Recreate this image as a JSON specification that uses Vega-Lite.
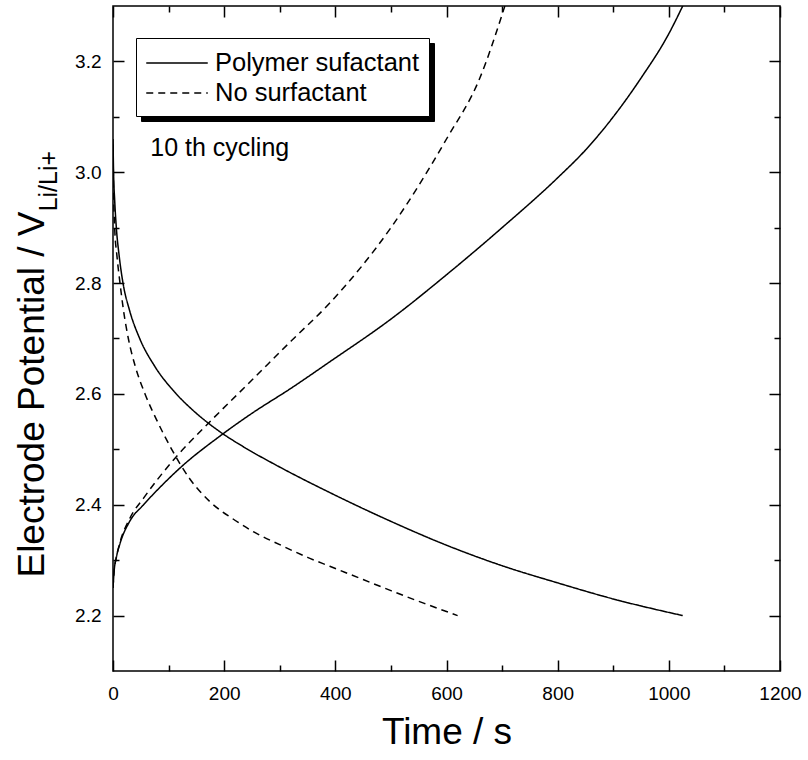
{
  "$schema": "https://vega.github.io/schema/vega-lite/v6.json",
  "width": 667,
  "height": 665,
  "autosize": {"type": "none"},
  "padding": {"left": 113, "top": 6, "right": 28, "bottom": 89},
  "config": {
    "font": "Liberation Sans",
    "view": {"stroke": "black", "strokeWidth": 1.5},
    "axis": {"grid": false, "domain": false, "tickColor": "black", "tickWidth": 1.5, "labelColor": "black", "titleColor": "black", "labelFlush": false, "labelOverlap": false, "labelBound": false}
  },
  "datasets": {
    "curves": [
      {"series": "Polymer sufactant", "branch": "discharge", "t": 0, "v": 3.06},
      {"series": "Polymer sufactant", "branch": "discharge", "t": 1, "v": 3.0},
      {"series": "Polymer sufactant", "branch": "discharge", "t": 3, "v": 2.95},
      {"series": "Polymer sufactant", "branch": "discharge", "t": 6, "v": 2.9},
      {"series": "Polymer sufactant", "branch": "discharge", "t": 11, "v": 2.85},
      {"series": "Polymer sufactant", "branch": "discharge", "t": 18, "v": 2.8},
      {"series": "Polymer sufactant", "branch": "discharge", "t": 30, "v": 2.75},
      {"series": "Polymer sufactant", "branch": "discharge", "t": 48, "v": 2.7},
      {"series": "Polymer sufactant", "branch": "discharge", "t": 75, "v": 2.65},
      {"series": "Polymer sufactant", "branch": "discharge", "t": 114, "v": 2.6},
      {"series": "Polymer sufactant", "branch": "discharge", "t": 150, "v": 2.565},
      {"series": "Polymer sufactant", "branch": "discharge", "t": 192, "v": 2.532},
      {"series": "Polymer sufactant", "branch": "discharge", "t": 234, "v": 2.505},
      {"series": "Polymer sufactant", "branch": "discharge", "t": 300, "v": 2.468},
      {"series": "Polymer sufactant", "branch": "discharge", "t": 390, "v": 2.422},
      {"series": "Polymer sufactant", "branch": "discharge", "t": 500, "v": 2.37},
      {"series": "Polymer sufactant", "branch": "discharge", "t": 600, "v": 2.327},
      {"series": "Polymer sufactant", "branch": "discharge", "t": 700, "v": 2.29},
      {"series": "Polymer sufactant", "branch": "discharge", "t": 800, "v": 2.259},
      {"series": "Polymer sufactant", "branch": "discharge", "t": 900, "v": 2.23},
      {"series": "Polymer sufactant", "branch": "discharge", "t": 1025, "v": 2.2},
      {"series": "Polymer sufactant", "branch": "charge", "t": 0, "v": 2.25},
      {"series": "Polymer sufactant", "branch": "charge", "t": 2, "v": 2.28},
      {"series": "Polymer sufactant", "branch": "charge", "t": 6, "v": 2.305},
      {"series": "Polymer sufactant", "branch": "charge", "t": 12.6, "v": 2.33},
      {"series": "Polymer sufactant", "branch": "charge", "t": 30, "v": 2.37},
      {"series": "Polymer sufactant", "branch": "charge", "t": 55, "v": 2.4},
      {"series": "Polymer sufactant", "branch": "charge", "t": 90, "v": 2.437},
      {"series": "Polymer sufactant", "branch": "charge", "t": 123.5, "v": 2.469},
      {"series": "Polymer sufactant", "branch": "charge", "t": 192.5, "v": 2.524},
      {"series": "Polymer sufactant", "branch": "charge", "t": 250, "v": 2.565},
      {"series": "Polymer sufactant", "branch": "charge", "t": 320, "v": 2.61},
      {"series": "Polymer sufactant", "branch": "charge", "t": 390, "v": 2.658},
      {"series": "Polymer sufactant", "branch": "charge", "t": 500, "v": 2.735},
      {"series": "Polymer sufactant", "branch": "charge", "t": 600, "v": 2.815},
      {"series": "Polymer sufactant", "branch": "charge", "t": 700, "v": 2.9},
      {"series": "Polymer sufactant", "branch": "charge", "t": 800, "v": 2.99},
      {"series": "Polymer sufactant", "branch": "charge", "t": 850, "v": 3.04},
      {"series": "Polymer sufactant", "branch": "charge", "t": 900, "v": 3.1},
      {"series": "Polymer sufactant", "branch": "charge", "t": 950, "v": 3.17},
      {"series": "Polymer sufactant", "branch": "charge", "t": 1000, "v": 3.25},
      {"series": "Polymer sufactant", "branch": "charge", "t": 1025, "v": 3.3},
      {"series": "No surfactant", "branch": "discharge", "t": 0, "v": 3.05},
      {"series": "No surfactant", "branch": "discharge", "t": 1, "v": 2.97},
      {"series": "No surfactant", "branch": "discharge", "t": 3, "v": 2.9},
      {"series": "No surfactant", "branch": "discharge", "t": 7, "v": 2.85},
      {"series": "No surfactant", "branch": "discharge", "t": 12.6, "v": 2.8},
      {"series": "No surfactant", "branch": "discharge", "t": 19, "v": 2.75},
      {"series": "No surfactant", "branch": "discharge", "t": 27.6, "v": 2.7},
      {"series": "No surfactant", "branch": "discharge", "t": 40, "v": 2.65},
      {"series": "No surfactant", "branch": "discharge", "t": 57.6, "v": 2.6},
      {"series": "No surfactant", "branch": "discharge", "t": 80, "v": 2.55},
      {"series": "No surfactant", "branch": "discharge", "t": 105.6, "v": 2.5},
      {"series": "No surfactant", "branch": "discharge", "t": 138, "v": 2.447},
      {"series": "No surfactant", "branch": "discharge", "t": 175, "v": 2.405},
      {"series": "No surfactant", "branch": "discharge", "t": 215, "v": 2.375},
      {"series": "No surfactant", "branch": "discharge", "t": 255, "v": 2.35},
      {"series": "No surfactant", "branch": "discharge", "t": 300, "v": 2.328},
      {"series": "No surfactant", "branch": "discharge", "t": 350, "v": 2.305},
      {"series": "No surfactant", "branch": "discharge", "t": 390, "v": 2.289},
      {"series": "No surfactant", "branch": "discharge", "t": 450, "v": 2.265},
      {"series": "No surfactant", "branch": "discharge", "t": 500, "v": 2.245},
      {"series": "No surfactant", "branch": "discharge", "t": 560, "v": 2.222},
      {"series": "No surfactant", "branch": "discharge", "t": 620, "v": 2.2},
      {"series": "No surfactant", "branch": "charge", "t": 0, "v": 2.25},
      {"series": "No surfactant", "branch": "charge", "t": 2, "v": 2.28},
      {"series": "No surfactant", "branch": "charge", "t": 6, "v": 2.305},
      {"series": "No surfactant", "branch": "charge", "t": 12, "v": 2.33},
      {"series": "No surfactant", "branch": "charge", "t": 30, "v": 2.375},
      {"series": "No surfactant", "branch": "charge", "t": 55, "v": 2.412},
      {"series": "No surfactant", "branch": "charge", "t": 111.6, "v": 2.484},
      {"series": "No surfactant", "branch": "charge", "t": 171.6, "v": 2.547},
      {"series": "No surfactant", "branch": "charge", "t": 250, "v": 2.625},
      {"series": "No surfactant", "branch": "charge", "t": 320, "v": 2.695},
      {"series": "No surfactant", "branch": "charge", "t": 390, "v": 2.764},
      {"series": "No surfactant", "branch": "charge", "t": 500, "v": 2.9},
      {"series": "No surfactant", "branch": "charge", "t": 600, "v": 3.06},
      {"series": "No surfactant", "branch": "charge", "t": 660, "v": 3.17},
      {"series": "No surfactant", "branch": "charge", "t": 705, "v": 3.3}
    ],
    "notes": [{"label": "10 th cycling", "t": 67, "v": 3.044}],
    "sub": [{"label": "Li/Li+", "t": -100.8, "v": 2.984}]
  },
  "layer": [
    {
      "data": {"name": "curves"},
      "mark": {"type": "line", "strokeWidth": 1.5, "clip": true, "interpolate": "monotone"},
      "encoding": {
        "x": {
          "field": "t", "type": "quantitative",
          "scale": {"domain": [0, 1200], "nice": false},
          "axis": {
            "orient": "bottom",
            "values": [0, 100, 200, 300, 400, 500, 600, 700, 800, 900, 1000, 1100, 1200],
            "labelExpr": "datum.value % 200 === 0 ? format(datum.value, 'd') : ''",
            "tickSize": {"condition": {"test": "datum.value % 200 === 0", "value": -11}, "value": -6},
            "labelFontSize": 19,
            "labelPadding": 24,
            "title": "Time / s",
            "titleFontSize": 37,
            "titleFontWeight": "normal",
            "titleX": 333.5,
            "titleY": 72,
            "titleBaseline": "alphabetic"
          }
        },
        "y": {
          "field": "v", "type": "quantitative",
          "scale": {"domain": [2.1, 3.3], "nice": false, "zero": false},
          "axis": {
            "orient": "left",
            "values": [2.2, 2.3, 2.4, 2.5, 2.6, 2.7, 2.8, 2.9, 3.0, 3.1, 3.2],
            "labelExpr": "round(datum.value * 10) % 2 === 0 ? format(datum.value, '.1f') : ''",
            "tickSize": {"condition": {"test": "round(datum.value * 10) % 2 === 0", "value": -11}, "value": -6},
            "labelFontSize": 19,
            "labelPadding": 23,
            "title": "Electrode Potential / V",
            "titleFontSize": 37,
            "titleFontWeight": "normal",
            "titleAngle": 270,
            "titleX": -70,
            "titleY": 388,
            "titleAlign": "center",
            "titleBaseline": "alphabetic"
          }
        },
        "detail": {"field": "branch"},
        "strokeDash": {
          "field": "series", "type": "nominal",
          "scale": {"domain": ["Polymer sufactant", "No surfactant"], "range": [[1, 0], [7, 5]]},
          "legend": {
            "title": null, "orient": "none", "legendX": 23, "legendY": 32,
            "symbolType": "M-2.05,0H2.05", "symbolSize": 900, "symbolStrokeWidth": 1.5,
            "symbolStrokeColor": "black", "symbolFillColor": "transparent", "symbolOffset": 16,
            "labelFontSize": 25.5, "labelColor": "black", "labelOffset": 22, "labelLimit": 0,
            "padding": 9, "rowPadding": 0,
            "strokeColor": "black", "fillColor": "white"
          }
        },
        "color": {
          "field": "series", "type": "nominal",
          "scale": {"domain": ["No surfactant", "Polymer sufactant"], "range": ["black", "black"]},
          "legend": {
            "title": null, "orient": "none", "legendX": 28, "legendY": 37,
            "symbolType": "M-2.05,0H2.05", "symbolSize": 900, "symbolStrokeWidth": 1.5,
            "symbolStrokeColor": "black", "symbolFillColor": "transparent", "symbolOffset": 16,
            "labelFontSize": 25.5, "labelColor": "black", "labelOffset": 22, "labelLimit": 0,
            "padding": 9, "rowPadding": 0,
            "strokeColor": "black", "fillColor": "black"
          }
        }
      }
    },
    {
      "data": {"name": "notes"},
      "mark": {"type": "text", "align": "left", "baseline": "middle", "fontSize": 25, "color": "black"},
      "encoding": {
        "x": {
          "field": "t", "type": "quantitative",
          "scale": {"domain": [0, 1200], "nice": false},
          "axis": {
            "orient": "top",
            "values": [0, 100, 200, 300, 400, 500, 600, 700, 800, 900, 1000, 1100, 1200],
            "labels": false, "title": null,
            "tickSize": {"condition": {"test": "datum.value % 200 === 0", "value": -11}, "value": -6}
          }
        },
        "y": {
          "field": "v", "type": "quantitative",
          "scale": {"domain": [2.1, 3.3], "nice": false, "zero": false},
          "axis": {
            "orient": "right",
            "values": [2.2, 2.3, 2.4, 2.5, 2.6, 2.7, 2.8, 2.9, 3.0, 3.1, 3.2],
            "labels": false, "title": null,
            "tickSize": {"condition": {"test": "round(datum.value * 10) % 2 === 0", "value": -11}, "value": -6}
          }
        },
        "text": {"field": "label"}
      }
    },
    {
      "data": {"name": "sub"},
      "mark": {"type": "text", "angle": 270, "align": "center", "baseline": "alphabetic", "fontSize": 25, "color": "black"},
      "encoding": {
        "x": {"field": "t", "type": "quantitative", "scale": {"domain": [0, 1200], "nice": false}, "axis": null},
        "y": {"field": "v", "type": "quantitative", "scale": {"domain": [2.1, 3.3], "nice": false, "zero": false}, "axis": null},
        "text": {"field": "label"}
      }
    }
  ],
  "resolve": {"axis": {"x": "independent", "y": "independent"}}
}
